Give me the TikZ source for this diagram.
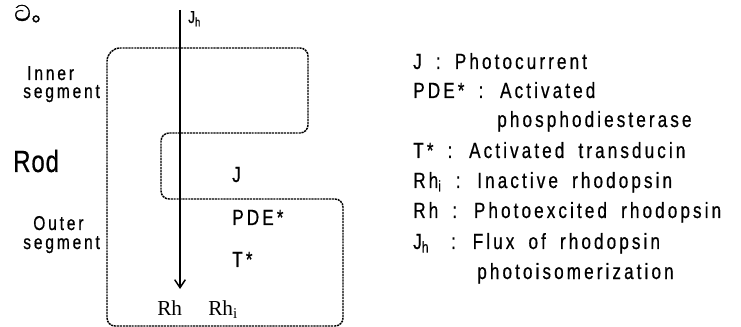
\documentclass[tikz,border=0pt]{standalone}
\usepackage{fontspec}
\usetikzlibrary{arrows.meta}
\newfontfamily\gulim[LetterSpace=14, WordSpace=1.8, FakeStretch=0.78, FakeBold=0.6]{Liberation Sans}
\newfontfamily\gulimwide[LetterSpace=3, FakeStretch=0.78, FakeBold=0.6]{Liberation Sans}
\newfontfamily\timesf{Liberation Serif}
\newfontfamily\sinhalafont[Script=Sinhala, FakeBold=1]{Abhaya Libre}
\newfontfamily\cjkfont[FakeBold=1.5]{Noto Sans CJK SC}

\begin{document}
\begin{tikzpicture}[
  x=0.75pt, y=-0.75pt,
  legend/.style={anchor=base west, inner sep=0pt, font=\gulim\fontsize{16.5}{19}\selectfont},
  side/.style={anchor=base west, inner sep=0pt, font=\gulim\fontsize{15}{17}\selectfont},
  mol/.style={anchor=base west, inner sep=0pt, font=\timesf\fontsize{16}{19}\selectfont},
  rodwall/.style={draw=black, line width=1.1pt, dash pattern=on 1.6pt off 0.6pt},
  flux/.style={draw, line width=1.1pt, -{Straight Barb[length=6pt, width=8pt]}}
]
  \useasboundingbox (0,0) rectangle (741,327);

  % Heading mark
  \node[anchor=base west, inner sep=0pt, font=\fontsize{22}{24}\selectfont] (mark) at (14,21) {\sinhalafont ට};
  \node[anchor=base west, inner sep=0pt, font=\cjkfont\fontsize{17}{19}\selectfont] (dot) at (mark.base east) {。};

  % Rod outline (inner + outer segment)
  \draw[rodwall] (200,48) [rounded corners=6pt] -- (308,48) -- (308,133) -- (161,133) -- (161,199)
    -- (343,199) -- (343,326) -- (107,326) [rounded corners=10pt] -- (107,48) [rounded corners=13pt] -- cycle;

  % Light flux
  \coordinate (jtop) at (180,10);
  \coordinate (jend) at (180,289);
  \draw[flux] (jtop) -- (jend);
  \node[anchor=base west, inner sep=0pt, font=\gulim\fontsize{13}{15}\selectfont] (jh) at (188,23) {J\textsubscript{h}};

  % Side labels
  \node[side] (inner1) at (27,80) {Inner};
  \node[side] (inner2) at (23,98) {segment};
  \node[anchor=base west, inner sep=0pt, font=\gulimwide\fontsize{23}{26}\selectfont] (rod) at (13,172) {Rod};
  \node[side] (outer1) at (33,230) {Outer};
  \node[side] (outer2) at (23,249) {segment};

  % Inside the outer segment
  \node[legend] (j) at (232,182) {J};
  \node[legend] (pde) at (232,225) {PDE*};
  \node[legend] (tstar) at (232,267) {T*};
  \node[mol] (rh) at (157,315) {Rh};
  \node[mol] (rhi) at (208,315) {Rh\textsubscript{i}};

  % Legend
  \node[legend] (l1) at (413,69) {J : Photocurrent};
  \node[legend] (l2) at (413,98) {PDE* : Activated};
  \node[legend] (l3) at (497,127) {phosphodiesterase};
  \node[legend] (l4) at (413,158) {T* : Activated transducin};
  \node[legend] (l5) at (413,188) {Rh\textsubscript{i} : Inactive rhodopsin};
  \node[legend] (l6) at (413,218) {Rh : Photoexcited rhodopsin};
  \node[legend] (l7) at (413,249) {J\textsubscript{h}\quad : Flux of rhodopsin};
  \node[legend] (l8) at (477,279) {photoisomerization};

\end{tikzpicture}
\end{document}
